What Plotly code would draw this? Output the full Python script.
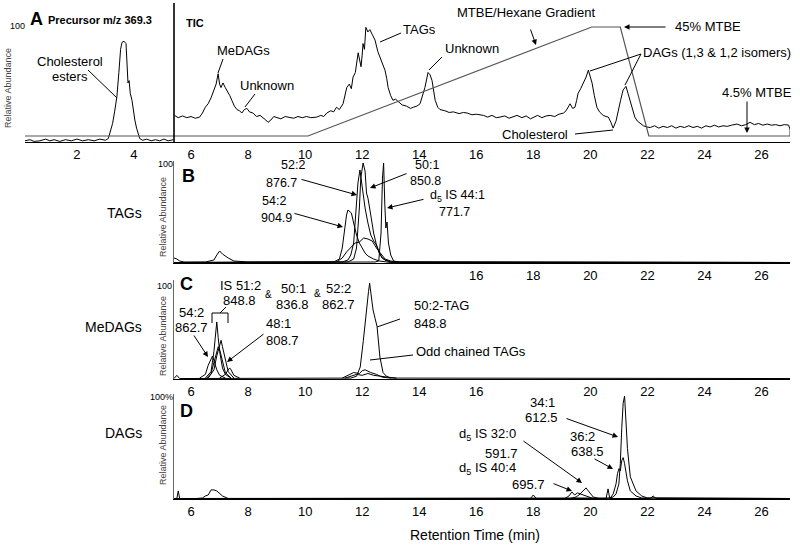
import plotly.graph_objects as go

W, H = 800, 546
FONT = "Liberation Sans, Arial, sans-serif"

# ---------------- data ----------------
# Panel A left: precursor m/z 369.3 (cholesterol esters)
ce_t = [0.18, 0.35, 0.5, 0.7, 0.9, 1.05, 1.2, 1.4, 1.6, 1.8, 2.0, 2.2, 2.4, 2.6, 2.8, 3.0, 3.1, 3.16,
        3.25, 3.32, 3.4, 3.47, 3.53, 3.58, 3.65, 3.72, 3.76, 3.79, 3.83, 3.87, 3.93, 3.98, 4.03, 4.09,
        4.14, 4.2, 4.3, 4.45, 4.6, 4.75, 4.9, 5.05, 5.2, 5.38]
ce_v = [1, 2, 0.5, 1, 2.5, 1, 2, 0.5, 2, 1, 2.5, 1, 2, 1, 2.5, 1.5, 3, 8,
        16, 26, 39, 60, 80, 86, 87, 85, 65, 51, 53, 42, 36, 26, 19, 12,
        8, 3, 1.5, 2.5, 1, 2, 1, 2.5, 1, 2]

# Panel A right: TIC
tic_t = [5.42, 5.55, 5.7, 5.85, 6.0, 6.15, 6.3, 6.4, 6.5, 6.6, 6.7, 6.8, 6.88, 6.95, 7.0, 7.05, 7.12,
         7.2, 7.28, 7.36, 7.43, 7.52, 7.61, 7.7, 7.78, 7.87, 7.96, 8.05, 8.17, 8.3, 8.42, 8.53, 8.62,
         8.7, 8.8, 8.9, 9.01, 9.15, 9.3, 9.47, 9.6, 9.75, 9.9, 10.05, 10.2, 10.41, 10.55, 10.65, 10.76,
         10.9, 11.0, 11.1, 11.2, 11.33, 11.4, 11.46, 11.55, 11.62, 11.68, 11.76, 11.86, 11.92, 11.96,
         12.0, 12.03, 12.08, 12.13, 12.2, 12.27, 12.35, 12.45, 12.55, 12.62, 12.7, 12.8, 12.86, 12.91,
         13.0, 13.08, 13.17, 13.26, 13.4, 13.55, 13.7, 13.79, 13.92, 14.03, 14.12, 14.2, 14.31, 14.38,
         14.45, 14.56, 14.65, 14.73, 14.9, 15.05, 15.2, 15.4, 15.55, 15.68, 15.85, 16.0, 16.25, 16.4,
         16.55, 16.7, 16.83, 17.0, 17.15, 17.3, 17.43, 17.6, 17.75, 17.9, 18.0, 18.15, 18.3, 18.45,
         18.59, 18.75, 18.9, 19.06, 19.15, 19.25, 19.29, 19.38, 19.46, 19.52, 19.57, 19.66, 19.76,
         19.85, 19.93, 20.0, 20.06, 20.14, 20.23, 20.32, 20.45, 20.55, 20.63, 20.72, 20.8, 20.9, 20.98,
         21.06, 21.15, 21.25, 21.32, 21.39, 21.47, 21.56, 21.65, 21.74, 21.86, 21.98, 22.1, 22.25,
         22.4, 22.55, 22.7, 22.85, 23.0, 23.15, 23.3, 23.45, 23.6, 23.75, 23.9, 24.05, 24.2, 24.35,
         24.5, 24.65, 24.8, 24.95, 25.14, 25.3, 25.45, 25.6, 25.75, 25.9, 26.05, 26.2, 26.35, 26.5,
         26.65, 26.8, 26.95, 27.0]
tic_v = [23, 21, 22.5, 21, 22, 20.5, 21.5, 25, 30, 33, 38, 44, 50, 59, 50, 47, 51,
         47, 44, 40, 36, 31, 28, 27, 25, 28, 29, 26, 25, 22, 23, 21, 19,
         17, 19, 22, 21, 20, 22, 21, 20.5, 22, 21, 22, 21, 21.5, 23, 22, 25,
         27, 26, 30, 28, 33, 40, 47, 50, 46, 56, 60, 77, 70, 65,
         75, 85, 80, 99, 95, 97, 93, 88, 78, 73, 68, 62, 55, 47,
         40, 36, 37, 35, 32, 31, 29, 30, 31, 33, 40, 47, 60, 58,
         53, 36, 30, 28, 27, 25.5, 26, 24.5, 25.5, 25, 23.5, 24, 23, 21.5,
         23, 21, 21.5, 22.5, 20.5, 22, 23, 21, 22.5, 20, 21.5, 23, 21, 22.5,
         23, 22, 24, 25, 27, 31, 33, 29, 30, 36, 42, 46, 51,
         56, 62, 57, 51, 40, 30, 26, 23, 22, 21.5, 17, 12, 18, 28,
         36, 45, 48, 42, 36, 28, 21.5, 18, 16, 14, 13, 12.5, 14,
         12, 13.5, 12.5, 14, 12, 13.5, 12.5, 14, 12.5, 13.5, 12, 14, 13, 14.5,
         13, 14, 13.5, 14.5, 15.5, 14, 15, 17, 15, 16, 14.5, 15.5, 14.5, 15,
         14, 15, 14.6, 11]

# MTBE / hexane gradient (% MTBE)
grad_t = [0.18, 10.1, 20.05, 21.05, 22.05, 27.0, 27.0]
grad_v = [4.5, 4.5, 45, 45, 4.5, 4.5, 7.5]

# Panel B: TAGs
b54_t = [5.4, 5.5, 5.6, 5.75, 6.5, 6.8, 6.9, 7.0, 7.1, 7.3, 7.5, 8.0, 11.0, 11.2, 11.3, 11.38, 11.45,
         11.5, 11.55, 11.62, 11.7, 11.8, 11.9, 12.0, 12.1, 12.2, 12.4, 12.6, 12.8, 13.0, 27.0]
b54_v = [5, 4, 2, 1, 1, 3, 8, 12, 9, 5, 2, 1, 1, 4, 15, 35, 48, 53, 52, 50, 40, 28, 20, 15, 10, 7,
         4, 2, 1, 0.5, 0.5]
b52_t = [5.4, 11.3, 11.5, 11.6, 11.7, 11.8, 11.85, 11.92, 12.0, 12.1, 12.2, 12.3, 12.4, 12.5, 12.6,
         12.7, 12.8, 13.0, 27.0]
b52_v = [0.5, 1, 3, 8, 20, 55, 80, 93, 75, 55, 40, 28, 22, 18, 10, 5, 3, 1, 0.5]
b50_t = [5.4, 11.5, 11.7, 11.8, 11.9, 11.95, 12.03, 12.1, 12.15, 12.2, 12.3, 12.4, 12.5, 12.6, 12.7,
         12.8, 13.0, 27.0]
b50_v = [0.5, 1, 4, 15, 55, 85, 100, 92, 70, 65, 48, 30, 18, 10, 5, 3, 1, 0.5]
b44_t = [5.4, 12.45, 12.58, 12.66, 12.71, 12.75, 12.79, 12.83, 12.87, 12.92, 13.0, 13.1, 13.3, 27.0]
b44_v = [0.5, 1, 2, 30, 85, 100, 60, 35, 41, 20, 8, 2, 1, 0.5]
bstep_t = [11.1, 11.3, 11.45, 11.6, 11.75, 11.9, 12.05, 12.2, 12.35, 12.5, 12.65, 12.8, 13.0, 13.2]
bstep_v = [1, 5, 11, 15, 20, 21, 25, 24, 22, 15, 9, 4, 2, 1]

# Panel C: MeDAGs
c50tag_t = [5.4, 5.5, 5.6, 11.6, 11.8, 11.93, 12.04, 12.1, 12.16, 12.22, 12.26, 12.32, 12.38, 12.45,
            12.52, 12.62, 12.73, 12.85, 13.0, 27.0]
c50tag_v = [0.5, 4, 0.5, 1, 3, 13, 42, 62, 78, 95, 104, 88, 75, 66, 57, 24, 7, 3, 1, 0.5]
codd1_t = [11.3, 11.5, 11.7, 11.9, 12.0, 12.1, 12.3, 12.5, 12.7, 13.0]
codd1_v = [1, 4, 7, 6, 9, 10, 7, 5, 2, 1]
codd2_t = [11.4, 11.6, 11.8, 12.0, 12.2, 12.4, 12.6, 12.9, 13.2]
codd2_v = [1, 3, 5, 4, 6, 4, 3, 2, 1]
c54_t = [6.3, 6.5, 6.6, 6.7, 6.75, 6.8, 6.9, 7.0, 7.2]
c54_v = [1, 5, 15, 22, 25, 20, 10, 4, 1]
c51_t = [6.5, 6.7, 6.8, 6.85, 6.9, 6.95, 7.0, 7.1, 7.2, 7.4]
c51_v = [1, 8, 30, 50, 62, 45, 30, 12, 5, 1]
c501_t = [6.6, 6.8, 6.9, 7.0, 7.05, 7.1, 7.2, 7.3, 7.5]
c501_v = [1, 10, 25, 38, 42, 35, 20, 8, 1]
c522_t = [6.55, 6.7, 6.8, 6.9, 6.95, 7.0, 7.1, 7.2, 7.4]
c522_v = [1, 6, 18, 30, 35, 32, 18, 7, 1]
c48_t = [7.0, 7.2, 7.3, 7.35, 7.4, 7.5, 7.7]
c48_v = [1, 5, 10, 12, 10, 4, 1]

# Panel D: DAGs
d341_t = [5.4, 20.6, 20.8, 20.9, 21.0, 21.05, 21.1, 21.15, 21.2, 21.25, 21.3, 21.4, 21.5, 21.6, 21.8,
          22.0, 27.0]
d341_v = [0.5, 0.5, 2, 5, 15, 35, 70, 95, 102, 80, 50, 22, 15, 8, 3, 1, 0.5]
d362_t = [5.4, 20.5, 20.7, 20.8, 20.9, 20.95, 21.0, 21.05, 21.1, 21.15, 21.2, 21.3, 21.4, 21.6, 21.8,
          27.0]
d362_v = [0.5, 0.5, 1, 5, 15, 25, 30, 28, 38, 41, 35, 18, 8, 3, 1, 0.5]
d320_t = [19.3, 19.5, 19.6, 19.7, 19.8, 19.85, 19.9, 20.0, 20.1, 20.3]
d320_v = [0.5, 2, 4, 7, 10, 11, 9, 5, 2, 0.5]
d404_t = [19.1, 19.25, 19.35, 19.45, 19.55, 19.65, 19.75, 19.9, 20.1]
d404_v = [0.5, 3, 7, 4, 6, 5, 4, 2, 0.5]
d67_t = [6.2, 6.4, 6.5, 6.6, 6.7, 6.8, 6.9, 7.0, 7.1, 7.3]
d67_v = [0.5, 1, 3, 4, 9, 9, 8, 5, 3, 0.5]
dspk_t = [5.4, 5.5, 5.55, 5.6, 17.9, 18.0, 18.1, 20.55, 20.62, 20.68, 22.1, 22.2, 22.3, 27.0]
dspk_v = [0.5, 0.5, 8, 0.5, 0.5, 4, 0.5, 0.5, 10, 0.5, 0.5, 3, 0.5, 0.5]

ticks_a = [2, 4, 6, 8, 10, 12, 14, 16, 18, 20, 22, 24, 26]
ticks_b = [16, 18, 20, 22, 24, 26]
ticks_c = [6, 8, 10, 12, 14, 16, 20, 22, 24, 26]
ticks_d = [6, 8, 10, 12, 14, 16, 18, 20, 22, 24, 26]


# ---------------- helpers ----------------
def px(x):
    return x / W


def py(y):
    return 1 - y / H


fig = go.Figure()


def tr(t, v, xa, ya, color="black", width=1):
    fig.add_trace(go.Scatter(x=t, y=v, mode="lines", xaxis=xa, yaxis=ya,
                             line=dict(color=color, width=width), showlegend=False,
                             hoverinfo="skip"))


tr(grad_t, grad_v, "x", "y5", color="#555", width=1.2)
tr(ce_t, ce_v, "x", "y")
tr(tic_t, tic_v, "x", "y")

for t, v in [(bstep_t, bstep_v), (b54_t, b54_v), (b52_t, b52_v), (b50_t, b50_v), (b44_t, b44_v)]:
    tr(t, v, "x2", "y2")
for t, v in [(codd1_t, codd1_v), (codd2_t, codd2_v), (c54_t, c54_v), (c522_t, c522_v),
             (c501_t, c501_v), (c51_t, c51_v), (c48_t, c48_v), (c50tag_t, c50tag_v)]:
    tr(t, v, "x3", "y3")
for t, v in [(dspk_t, dspk_v), (d67_t, d67_v), (d404_t, d404_v), (d320_t, d320_v),
             (d362_t, d362_v), (d341_t, d341_v)]:
    tr(t, v, "x4", "y4")

XA = dict(showline=True, linecolor="black", linewidth=1.3, ticks="", showgrid=False,
          zeroline=False, tickfont=dict(family=FONT, size=13, color="black"))
YA = dict(showgrid=False, zeroline=False, showticklabels=False, ticks="")

layout = dict(
    width=W, height=H, margin=dict(l=0, r=0, t=0, b=0),
    paper_bgcolor="white", plot_bgcolor="rgba(0,0,0,0)",
    font=dict(family=FONT, size=13, color="black"),
    xaxis=dict(XA, domain=[px(25), px(790)], range=[0.179, 27.0], anchor="y",
               tickvals=ticks_a),
    yaxis=dict(YA, domain=[py(142), py(3)], range=[0, 120], anchor="x", showline=False),
    yaxis5=dict(YA, domain=[py(142), py(3)], range=[2.27, 53.92], overlaying="y",
                anchor="x", showline=False),
    xaxis2=dict(XA, domain=[px(174), px(790)], range=[5.4, 27.0], anchor="y2",
                tickvals=ticks_b),
    yaxis2=dict(YA, domain=[py(263), py(161)], range=[0, 102], anchor="x2",
                showline=True, linecolor="#666", linewidth=1),
    xaxis3=dict(XA, domain=[px(174), px(790)], range=[5.4, 27.0], anchor="y3",
                tickvals=ticks_c),
    yaxis3=dict(YA, domain=[py(379), py(279.6)], range=[0, 108], anchor="x3",
                showline=True, linecolor="#666", linewidth=1),
    xaxis4=dict(XA, domain=[px(174), px(790)], range=[5.4, 27.0], anchor="y4",
                tickvals=ticks_d),
    yaxis4=dict(YA, domain=[py(499), py(394)], range=[0, 104], anchor="x4",
                showline=True, linecolor="#666", linewidth=1),
)
fig.update_layout(**layout)

ann = []
shapes = []


def text(s, x, y, size=13, anchor="center", bold=False, color="black", angle=0):
    if bold:
        s = "<b>" + s + "</b>"
    ann.append(dict(text=s, x=px(x), y=py(y), xref="paper", yref="paper", showarrow=False,
                    xanchor=anchor, yanchor="middle", textangle=angle, borderpad=0,
                    font=dict(family=FONT, size=size, color=color)))


def arrow(tail, head):
    ann.append(dict(text="", x=px(head[0]), y=py(head[1]), xref="paper", yref="paper",
                    showarrow=True, ax=tail[0] - head[0], ay=tail[1] - head[1],
                    arrowhead=2, arrowsize=1.1, arrowwidth=1, arrowcolor="black"))


def line(p0, p1, width=1):
    shapes.append(dict(type="line", xref="paper", yref="paper", x0=px(p0[0]), y0=py(p0[1]),
                       x1=px(p1[0]), y1=py(p1[1]), line=dict(color="black", width=width)))


# ---- panel A ----
line((174, 3), (174, 142), 1.6)
text("A", 36, 19, size=18, bold=True)
text("Precursor m/z 369.3", 47, 20, size=11, anchor="left", bold=True)
text("TIC", 185, 23, size=11, anchor="left", bold=True)
text("100", 17, 26, size=9)
text("Relative Abundance", 8, 88, size=9, color="#444", angle=-90)
text("Cholesterol", 70, 61)
text("esters", 70, 77)
line((88, 70), (117, 98))
text("MeDAGs", 243, 50)
line((223, 59), (218, 73))
text("Unknown", 267, 85)
line((255, 94), (245, 107))
text("TAGs", 419, 29)
line((380, 42), (401, 33))
text("Unknown", 472, 48)
line((442, 57), (429, 70))
text("MTBE/Hexane Gradient", 526, 12)
arrow((530, 28), (536, 45))
text("45% MTBE", 708, 26)
arrow((667, 27), (624, 27))
text("DAGs (1,3 & 1,2 isomers)", 642, 53, anchor="left")
line((641, 54), (590, 71))
line((641, 54), (625, 85))
text("Cholesterol", 535, 134)
line((575, 134), (613, 130))
text("4.5% MTBE", 757, 92)
arrow((747, 100), (747, 133))

# ---- panel B ----
BS = 12.5
text("B", 188, 176, size=18, bold=True)
text("TAGs", 143, 213, size=14, anchor="right")
text("100", 165, 164, size=9)
text("Relative Abundance", 163, 217, size=9, color="#444", angle=-90)
text("52:2", 293, 165, size=BS)
text("876.7", 281, 183, size=BS)
arrow((300, 179), (357, 195))
text("50:1", 427, 165, size=BS)
text("850.8", 425, 181, size=BS)
arrow((408, 173), (370, 188))
text("d<sub>5</sub> IS 44:1", 457, 196, size=BS)
text("771.7", 454, 212, size=BS)
arrow((425, 199), (387, 208))
text("54:2", 274, 201, size=BS)
text("904.9", 276, 218, size=BS)
arrow((293, 213), (343, 227))

# ---- panel C ----
text("C", 186, 284, size=18, bold=True)
text("MeDAGs", 143, 327, size=14, anchor="right")
text("100", 164, 286, size=9)
text("Relative Abundance", 163, 336, size=9, color="#444", angle=-90)
text("IS 51:2", 240, 285)
text("848.8", 239, 300)
text("&amp;", 268, 294, size=10)
text("50:1", 293, 288)
text("836.8", 292, 304)
text("&amp;", 317, 293, size=10)
text("52:2", 338, 288)
text("862.7", 338, 304)
line((212, 323), (212, 313))
line((212, 313), (228, 313))
line((228, 313), (228, 323))
line((220, 313), (226, 307))
text("54:2", 191, 312)
text("862.7", 191, 327)
arrow((193, 334), (208, 357))
text("48:1", 278, 323)
text("808.7", 282, 340)
arrow((265, 333), (227, 362))
text("50:2-TAG", 413, 305, anchor="left")
text("848.8", 413, 323, anchor="left")
line((400, 319), (377, 327))
text("Odd chained TAGs", 415, 351, anchor="left")
line((413, 355), (370, 360))

# ---- panel D ----
text("D", 186, 411, size=18, bold=True)
text("DAGs", 143, 433, size=14, anchor="right")
text("100%", 161, 397, size=9)
text("Relative Abundance", 163, 445, size=9, color="#444", angle=-90)
text("34:1", 542, 402)
text("612.5", 541, 418)
arrow((565, 418), (618, 437))
text("36:2", 582, 436)
text("638.5", 587, 452)
arrow((593, 458), (613, 469))
text("d<sub>5</sub> IS 32:0", 487, 435)
text("591.7", 502, 453)
arrow((522, 440), (582, 483))
text("d<sub>5</sub> IS 40:4", 487, 469)
text("695.7", 528, 484)
arrow((552, 483), (572, 491))
text("Retention Time (min)", 475, 535, size=14)

fig.update_layout(annotations=ann, shapes=shapes)
fig.write_html("out.html", config={"displayModeBar": False},
               post_script="document.body.style.margin='0';document.body.style.overflow='hidden';")
